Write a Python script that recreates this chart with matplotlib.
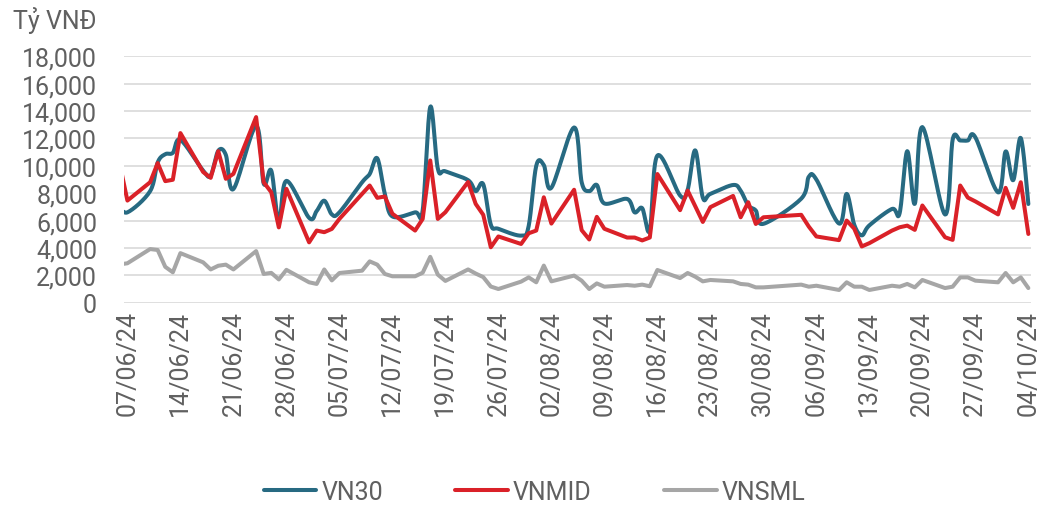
import matplotlib
matplotlib.use("Agg")
import matplotlib.pyplot as plt
import matplotlib.dates as mdates
import numpy as np
import pandas as pd
from matplotlib.lines import Line2D

# ---------------- data ----------------
dates = [
    "2024-06-06", "2024-06-07", "2024-06-10", "2024-06-11", "2024-06-12", "2024-06-13", "2024-06-14",
    "2024-06-17", "2024-06-18", "2024-06-19", "2024-06-20", "2024-06-21",
    "2024-06-24", "2024-06-25", "2024-06-26", "2024-06-27", "2024-06-28",
    "2024-07-01", "2024-07-02", "2024-07-03", "2024-07-04", "2024-07-05",
    "2024-07-08", "2024-07-09", "2024-07-10", "2024-07-11", "2024-07-12",
    "2024-07-15", "2024-07-16", "2024-07-17", "2024-07-18", "2024-07-19",
    "2024-07-22", "2024-07-23", "2024-07-24", "2024-07-25", "2024-07-26",
    "2024-07-29", "2024-07-30", "2024-07-31", "2024-08-01", "2024-08-02",
    "2024-08-05", "2024-08-06", "2024-08-07", "2024-08-08", "2024-08-09",
    "2024-08-12", "2024-08-13", "2024-08-14", "2024-08-15", "2024-08-16",
    "2024-08-19", "2024-08-20", "2024-08-21", "2024-08-22", "2024-08-23",
    "2024-08-26", "2024-08-27", "2024-08-28", "2024-08-29", "2024-08-30",
    "2024-09-04", "2024-09-05", "2024-09-06",
    "2024-09-09", "2024-09-10", "2024-09-11", "2024-09-12", "2024-09-13",
    "2024-09-16", "2024-09-17", "2024-09-18", "2024-09-19", "2024-09-20",
    "2024-09-23", "2024-09-24", "2024-09-25", "2024-09-26", "2024-09-27",
    "2024-09-30", "2024-10-01", "2024-10-02", "2024-10-03", "2024-10-04",
]

vn30 = [
    7200, 6600, 8150, 10250, 10850, 10950, 11900,
    9650, 9300, 11100, 10800, 8300,
    12900, 8700, 9650, 5900, 8900,
    6200, 6700, 7450, 6450, 6600,
    8800, 9400, 10550, 7950, 6300,
    6600, 6750, 14300, 9800, 9600,
    8950, 8150, 8650, 5700, 5400,
    4900, 5600, 10000, 10050, 8400,
    12800, 8800, 8150, 8600, 7250,
    7580, 6600, 6900, 5280, 10750,
    7830, 8250, 11130, 7680, 7950,
    8600, 8180, 7100, 6730, 5760,
    7600, 9200, 9000,
    5780, 7950, 5700, 4920, 5650,
    6850, 6540, 11070, 7220, 12830,
    6440, 11900, 11850, 11850, 12080,
    8060, 11050, 8950, 12030, 7210,
]

vnmid = [
    10100, 7460, 8800, 10200, 8880, 8980, 12390,
    9550, 9120, 11070, 9050, 9410,
    13560, 8800, 8070, 5500, 8320,
    4410, 5270, 5150, 5390, 6120,
    7950, 8560, 7660, 7760, 6500,
    5270, 6120, 10390, 6120, 6610,
    8820, 7220, 6420, 4050, 4840,
    4290, 5070, 5270, 7700, 5780,
    8250, 5300, 4620, 6270, 5400,
    4760, 4760, 4550, 4760, 9400,
    6760, 8190, 7050, 5900, 6980,
    7800, 6240, 7340, 5750, 6240,
    6420, 5560, 4840,
    4570, 6000, 5410, 4110, 4350,
    5270, 5510, 5630, 5320, 7100,
    4780, 4590, 8560, 7680, 7400,
    6450, 8390, 6930, 8800, 5020,
]

vnsml = [
    2800, 2880, 3920, 3850, 2620, 2220, 3620,
    2950, 2430, 2700, 2780, 2430,
    3770, 2100, 2180, 1700, 2400,
    1490, 1370, 2430, 1630, 2170,
    2340, 3020, 2780, 2100, 1930,
    1930, 2190, 3350, 2050, 1590,
    2430, 2130, 1870, 1180, 1000,
    1540, 1850, 1490, 2710, 1560,
    1980, 1610, 1000, 1410, 1170,
    1290, 1240, 1320, 1200, 2390,
    1800, 2170, 1900, 1560, 1660,
    1560, 1370, 1320, 1120, 1120,
    1320, 1170, 1240,
    930, 1490, 1170, 1170, 930,
    1240, 1170, 1370, 1120, 1660,
    1070, 1170, 1850, 1850, 1610,
    1490, 2170, 1490, 1850, 1070,
]

series_names = ["VN30", "VNMID", "VNSML"]
colors = ["#276A82", "#DA2128", "#A6A6A6"]
y_ticks = [0, 2000, 4000, 6000, 8000, 10000, 12000, 14000, 16000, 18000]
x_tick_start = "2024-06-07"
x_tick_end = "2024-10-04"
y_unit = "Tỷ VNĐ"

# ---------------- helpers ----------------
def smooth(x, y, n=16):
    """Excel-like smoothed line (Catmull-Rom bezier, tension 1/6)."""
    x = np.asarray(x, float)
    y = np.asarray(y, float)
    P = np.column_stack([x, y])
    out = [P[0]]
    for i in range(len(P) - 1):
        p0 = P[i - 1] if i > 0 else P[i]
        p1 = P[i]
        p2 = P[i + 1]
        p3 = P[i + 2] if i + 2 < len(P) else P[i + 1]
        c1 = p1 + (p2 - p0) / 6.0
        c2 = p2 - (p3 - p1) / 6.0
        t = np.linspace(0, 1, n + 1)[1:, None]
        pts = ((1 - t) ** 3) * p1 + 3 * ((1 - t) ** 2) * t * c1 + 3 * (1 - t) * t ** 2 * c2 + t ** 3 * p2
        out.extend(pts)
    out = np.array(out)
    return out[:, 0], out[:, 1]

plt.rcParams["font.family"] = ["Roboto", "DejaVu Sans"]
text_color = "#606060"

xd = mdates.date2num(pd.to_datetime(dates))

fig = plt.figure(figsize=(10.4, 5.06), dpi=100)
ax = fig.add_axes([124 / 1040, 1 - 303.7 / 506, (1031 - 124) / 1040, (303.7 - 57.3) / 506])

lw = 2.9
xs, ys = smooth(xd, vn30)
ax.plot(xs, ys, color=colors[0], lw=lw, solid_capstyle="round", solid_joinstyle="round", zorder=3)
ax.plot(xd, vnmid, color=colors[1], lw=lw, solid_capstyle="round", solid_joinstyle="round", zorder=4)
ax.plot(xd, vnsml, color=colors[2], lw=lw, solid_capstyle="round", solid_joinstyle="round", zorder=2)

x0 = mdates.date2num(pd.Timestamp(x_tick_start))
x1 = mdates.date2num(pd.Timestamp(x_tick_end))
ax.set_xlim(x0 - 0.45, x1 + 0.35)
ax.set_ylim(0, 18000)

ticks = np.arange(x0, x1 + 0.5, 7)
ax.set_xticks(ticks)
ax.xaxis.set_major_formatter(mdates.DateFormatter("%d/%m/%y"))
ax.set_yticks(y_ticks)
ax.set_yticklabels([f"{v:,}" for v in y_ticks])

ax.tick_params(axis="x", length=0, pad=5, labelsize=18, labelcolor=text_color, rotation=90)
ax.tick_params(axis="y", length=0, pad=27 * 0.72, labelsize=18, labelcolor=text_color)

for s in ax.spines.values():
    s.set_visible(False)
ax.grid(axis="y", color="#D9D9D9", lw=1.2, zorder=0)
ax.set_axisbelow(True)

fig.text(13 / 1040, 1 - 29.5 / 506, y_unit, fontsize=18, color=text_color, ha="left", va="baseline")

handles = [Line2D([], [], color=c, lw=lw, solid_capstyle="round") for c in colors]
leg = fig.legend(handles, series_names, loc="center", bbox_to_anchor=(0.514, 1 - 493 / 506),
                 ncol=3, frameon=False, fontsize=18, handlelength=2.1, handletextpad=0.2,
                 columnspacing=2.9, borderaxespad=0, borderpad=0)
for t in leg.get_texts():
    t.set_color(text_color)

fig.savefig("out.png", dpi=100)
